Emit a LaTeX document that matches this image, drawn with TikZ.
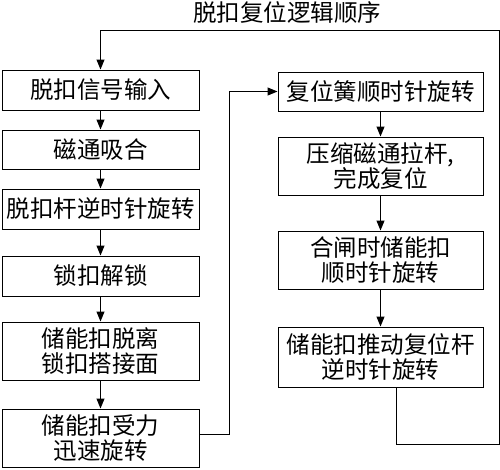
\documentclass[tikz,border=0pt]{standalone}
\usepackage{fontspec}
\newfontfamily\cjk{Noto Sans CJK SC}
\usetikzlibrary{arrows.meta}
\begin{document}
\begin{tikzpicture}[x=1pt,y=-1pt,
  box/.style={draw,line width=1pt,inner sep=0pt,align=center,font=\cjk\fontsize{23.5}{25}\selectfont},
  lbox/.style={box,minimum width=197pt},
  rbox/.style={box,minimum width=205pt},
  arr/.style={line width=1pt,-{Triangle[length=10pt,width=8pt]}},
  ln/.style={line width=1pt}]
\useasboundingbox (0,0) rectangle (500,469);
\node[font=\cjk\fontsize{23.5}{25}\selectfont] (title) at (287,13) {脱扣复位逻辑顺序};
\node[lbox,minimum height=40pt] (L1) at (100.5,90) {脱扣信号输入};
\node[lbox,minimum height=39pt] (L2) at (100.5,149.5) {磁通吸合};
\node[lbox,minimum height=40pt] (L3) at (100.5,209) {脱扣杆逆时针旋转};
\node[lbox,minimum height=40pt] (L4) at (100.5,276) {锁扣解锁};
\node[lbox,minimum height=58pt] (L5) at (100.5,351) {储能扣脱离\\锁扣搭接面};
\node[lbox,minimum height=58pt] (L6) at (100.5,438) {储能扣受力\\迅速旋转};
\node[rbox,minimum height=39pt] (R1) at (380.5,91.5) {复位簧顺时针旋转};
\node[rbox,minimum height=58pt] (R2) at (380.5,166) {压缩磁通拉杆,\\完成复位};
\node[rbox,minimum height=58pt] (R3) at (380.5,260) {合闸时储能扣\\顺时针旋转};
\node[rbox,minimum height=60pt] (R4) at (380.5,357) {储能扣推动复位杆\\逆时针旋转};
\draw[arr] (L1) -- (L2);
\draw[arr] (L2) -- (L3);
\draw[arr] (L3) -- (L4);
\draw[arr] (L4) -- (L5);
\draw[arr] (L5) -- (L6);
\draw[arr] (R1) -- (R2);
\draw[arr] (R2) -- (R3);
\draw[arr] (R3) -- (R4);
\coordinate (a1) at (229,434);
\coordinate (a2) at (229,91.5);
\draw[arr] ([yshift=4pt]L6.east) -- (a1) -- (a2) -- (R1.west);
\coordinate (b1) at (396,444);
\coordinate (b2) at (499,444);
\coordinate (b3) at (499,30);
\coordinate (b4) at (100.5,30);
\draw[arr] (R4.south -| b1) -- (b1) -- (b2) -- (b3) -- (b4) -- (L1.north);
\end{tikzpicture}
\end{document}
